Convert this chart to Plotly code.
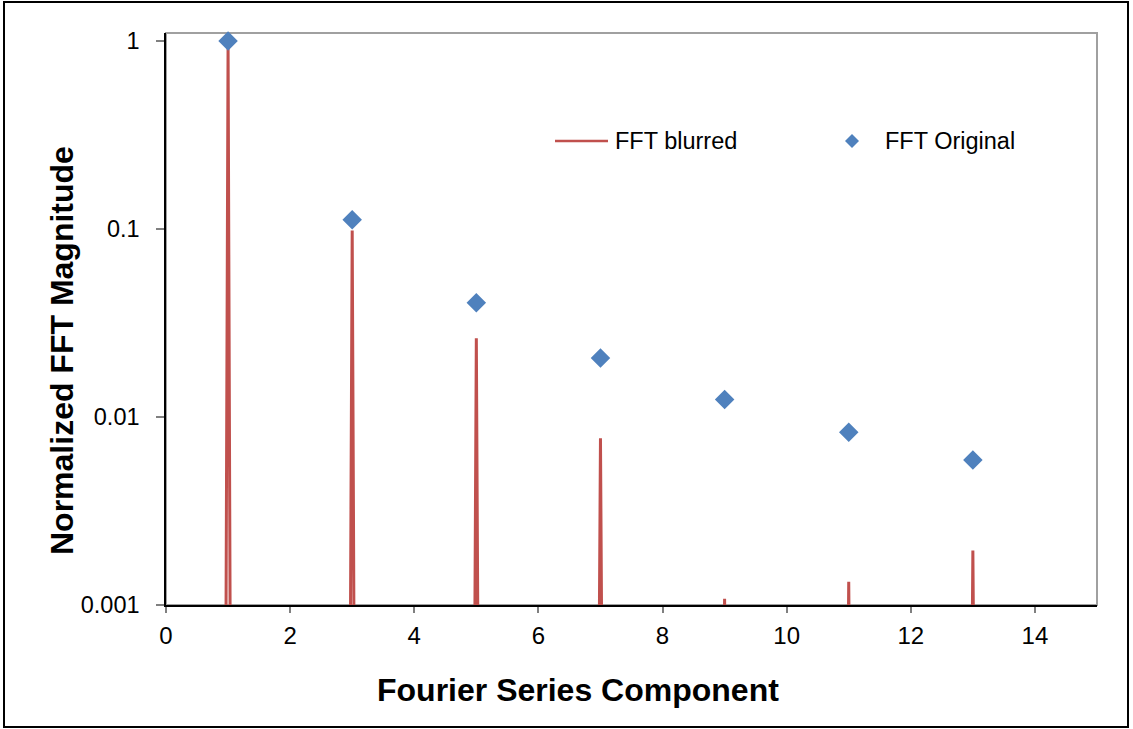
import plotly.graph_objects as go

# ---- data ----
harmonics = [1, 3, 5, 7, 9, 11, 13]
original_mag = [1.0, 0.112, 0.0405, 0.0206, 0.0124, 0.0083, 0.0059]

blurred_x = [0.946, 1.0, 1.054, 2.946, 3.0, 3.054, 4.946, 5.0, 5.054,
             6.946, 7.0, 7.054, 8.946, 9.0, 9.054, 10.946, 11.0, 11.054,
             12.946, 13.0, 13.054]
blurred_y = [1e-5, 0.96, 1e-5, 1e-5, 0.098, 1e-5, 1e-5, 0.0262, 1e-5,
             1e-5, 0.0077, 1e-5, 1e-5, 0.00108, 1e-5, 1e-5, 0.00133, 1e-5,
             1e-5, 0.00195, 1e-5]

x_ticks = [0, 2, 4, 6, 8, 10, 12, 14]
y_ticks = [0.001, 0.01, 0.1, 1]
y_tick_text = ["0.001", "0.01", "0.1", "1"]

RED = "#C0504D"
BLUE = "#4F81BD"
FONT = "Liberation Sans, Arial, sans-serif"

W, H = 1133, 729
L, R, T, B = 166, 1097, 33, 605


def px(xp):
    return (xp - L) / (R - L)


def py(yp):
    return (B - yp) / (B - T)


fig = go.Figure()
fig.add_trace(go.Scatter(x=blurred_x, y=blurred_y, mode="lines",
                         line=dict(color=RED, width=3),
                         name="FFT blurred", showlegend=False))
fig.add_trace(go.Scatter(x=harmonics, y=original_mag, mode="markers",
                         marker=dict(symbol="diamond", size=15, color=BLUE),
                         name="FFT Original", showlegend=False,
                         cliponaxis=False))

shapes = [
    # plot area border (top/right gray)
    dict(type="rect", xref="paper", yref="paper", x0=0, x1=1, y0=0, y1=1,
         line=dict(color="#A0A0A0", width=2), layer="below"),
    # outer chart frame
    dict(type="rect", xref="paper", yref="paper", x0=px(4), x1=px(1128),
         y0=py(727), y1=py(2), line=dict(color="black", width=2)),
    # legend line sample
    dict(type="line", xref="paper", yref="paper", x0=px(555), x1=px(608),
         y0=py(141), y1=py(141), line=dict(color=RED, width=2.5)),
    # legend diamond
    dict(type="path", xref="paper", yref="paper",
         path="M {a},{b} L {c},{d} L {a},{e} L {f},{d} Z".format(
             a=px(852), b=py(134), c=px(859), d=py(141), e=py(148), f=px(845)),
         fillcolor=BLUE, line=dict(color=BLUE, width=0)),
]

annotations = [
    dict(text="FFT blurred", xref="paper", yref="paper", x=px(613), y=py(141),
         xanchor="left", yanchor="middle", showarrow=False,
         font=dict(family=FONT, size=23.5, color="black")),
    dict(text="FFT Original", xref="paper", yref="paper", x=px(883), y=py(141),
         xanchor="left", yanchor="middle", showarrow=False,
         font=dict(family=FONT, size=23.5, color="black")),
    dict(text="<b>Fourier Series Component</b>", xref="paper", yref="paper",
         x=px(578), y=py(690), xanchor="center", yanchor="middle",
         showarrow=False, font=dict(family=FONT, size=32, color="black")),
    dict(text="<b>Normalized FFT Magnitude</b>", xref="paper", yref="paper",
         x=px(62), y=py(351), xanchor="center", yanchor="middle",
         showarrow=False, textangle=-90,
         font=dict(family=FONT, size=32, color="black")),
]

fig.update_layout(
    width=W, height=H,
    margin=dict(l=L, r=W - R, t=T, b=H - B, pad=0),
    paper_bgcolor="white", plot_bgcolor="white",
    font=dict(family=FONT, size=22, color="black"),
    shapes=shapes, annotations=annotations,
    showlegend=False,
)
fig.update_xaxes(range=[0, 15], tickvals=x_ticks, ticks="outside", ticklen=6,
                 tickcolor="#808080", tickwidth=1.5, showgrid=False,
                 zeroline=False, showline=True, linecolor="black",
                 linewidth=1.5, tickfont=dict(family=FONT, size=24),
                 ticklabelstandoff=2)
fig.update_yaxes(type="log", range=[-3, 0.042], tickvals=y_ticks,
                 ticktext=y_tick_text, ticks="outside", ticklen=8,
                 tickcolor="#808080", tickwidth=1.5, showgrid=False,
                 zeroline=False, showline=True, linecolor="black",
                 linewidth=1.5, tickfont=dict(family=FONT, size=23.5),
                 ticklabelstandoff=12)

fig.write_html("out.html")
